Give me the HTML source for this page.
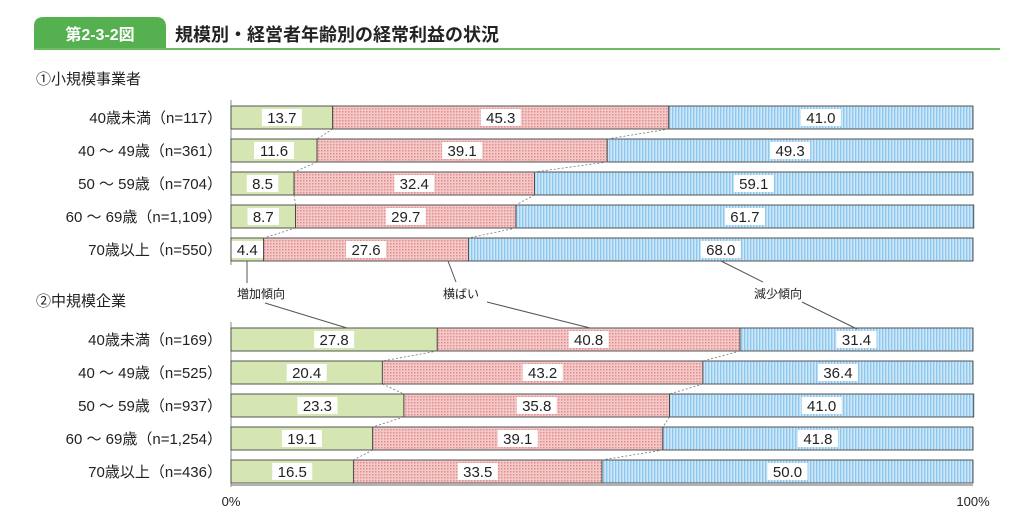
<!DOCTYPE html>
<html><head><meta charset="utf-8">
<style>
body{margin:0;background:#fff;}
svg{display:block;font-family:"Liberation Sans","Noto Sans CJK JP",sans-serif;}
</style></head>
<body>
<svg id="chart" width="1024" height="519" viewBox="0 0 1024 519" xmlns="http://www.w3.org/2000/svg">
<defs>
<pattern id="dots" width="3" height="3" patternUnits="userSpaceOnUse"><rect width="3" height="3" fill="#f5c8c8"/><rect width="1.5" height="1.5" fill="#e08e8e"/></pattern>
<pattern id="stripes" width="3" height="3" patternUnits="userSpaceOnUse"><rect width="3" height="3" fill="#cfe8f8"/><rect width="1.4" height="3" fill="#8fc8ee"/></pattern>
</defs>
<g>
<path d="M34 49 V26 Q34 17 44 17 H156 Q166 17 166 27 V49 Z" fill="#55b04f"/>
<rect x="34" y="48" width="966" height="2" fill="#6cbd5f"/>
<text x="100" y="40" fill="#fff" font-size="16" text-anchor="middle" font-weight="bold">第2-3-2図</text>
<text x="175" y="41" fill="#222" font-size="18" font-weight="bold">規模別・経営者年齢別の経常利益の状況</text>
</g>
<text x="36" y="84" font-size="15" fill="#222">①小規模事業者</text>
<text x="36" y="306" font-size="15" fill="#222">②中規模企業</text>
<g id="bars"></g>
<g stroke="#555" stroke-width="1" fill="none">
<line x1="247" y1="261" x2="247" y2="283"/>
<line x1="265" y1="303" x2="347" y2="328"/>
<line x1="448" y1="261" x2="456" y2="282"/>
<line x1="487" y1="302" x2="590" y2="328"/>
<line x1="721" y1="261" x2="763" y2="282"/>
<line x1="802" y1="302" x2="857" y2="329"/>
</g>
<text x="237" y="298" font-size="12" fill="#222">増加傾向</text>
<text x="443" y="298" font-size="12" fill="#222">横ばい</text>
<text x="754" y="298" font-size="12" fill="#222">減少傾向</text>
<line x1="231" y1="485" x2="973" y2="485" stroke="#999" stroke-width="1.5"/>
<text x="231" y="506" font-size="13" fill="#222" text-anchor="middle">0%</text>
<text x="973" y="506" font-size="13" fill="#222" text-anchor="middle">100%</text>
</svg>
<script>
const labels1 = ["40歳未満（n=117）","40 ～ 49歳（n=361）","50 ～ 59歳（n=704）","60 ～ 69歳（n=1,109）","70歳以上（n=550）"];
const inc1 = [13.7,11.6,8.5,8.7,4.4];
const flat1 = [45.3,39.1,32.4,29.7,27.6];
const dec1 = [41.0,49.3,59.1,61.7,68.0];
const labels2 = ["40歳未満（n=169）","40 ～ 49歳（n=525）","50 ～ 59歳（n=937）","60 ～ 69歳（n=1,254）","70歳以上（n=436）"];
const inc2 = [27.8,20.4,23.3,19.1,16.5];
const flat2 = [40.8,43.2,35.8,39.1,33.5];
const dec2 = [31.4,36.4,41.0,41.8,50.0];

const NS="http://www.w3.org/2000/svg";
const g=document.getElementById('bars');
const x0=231,x1=973;
const xs=v=>x0+(x1-x0)*v/100;
const bh=23;
function mk(t,a){const e=document.createElementNS(NS,t);for(const k in a)e.setAttribute(k,a[k]);g.appendChild(e);return e;}
function group(labels,inc,flat,dec,top,step,gname){
  const fills=["#d5e6b3","url(#dots)","url(#stripes)"];
  const names=["increase","flat","decrease"];
  const ax=mk('line',{x1:x0,y1:top-6,x2:x0,y2:top+step*4+bh+4,stroke:'#888','stroke-width':1});
  
  
  let prevB=null;
  labels.forEach((lb,i)=>{
    const y=top+i*step;
    const vals=[inc[i],flat[i],dec[i]];
    let c=0;const bounds=[];
    vals.forEach((v,j)=>{
      const r=mk('rect',{x:xs(c),y:y,width:xs(c+v)-xs(c),height:bh,fill:fills[j],stroke:'#444','stroke-width':0.9});
      
      
      const cx=(xs(c)+xs(c+v))/2;
      const s=v.toFixed(1);const w=s.length*8.5+6;
      const bg=mk('rect',{x:cx-w/2,y:y+3,width:w,height:bh-6,fill:'#fff'});
      
      
      const t=mk('text',{x:cx,y:y+17,'font-size':15,'text-anchor':'middle',fill:'#222'});
      t.textContent=s;
      
      
      c+=v;bounds.push(xs(c));
    });
    const tl=mk('text',{x:222,y:y+17,'font-size':15,'text-anchor':'end',fill:'#222'});
    tl.textContent=lb;
    
    
    if(prevB){
      for(let j=0;j<2;j++){
        const l=mk('line',{x1:prevB[j],y1:y-(step-bh),x2:bounds[j],y2:y,stroke:'#777','stroke-width':0.8,'stroke-dasharray':'2,2'});
        
        
      }
    }
    prevB=bounds;
  });
}
group(labels1,inc1,flat1,dec1,106,33,'small');
group(labels2,inc2,flat2,dec2,328,33,'medium');
</script>
</body></html>
